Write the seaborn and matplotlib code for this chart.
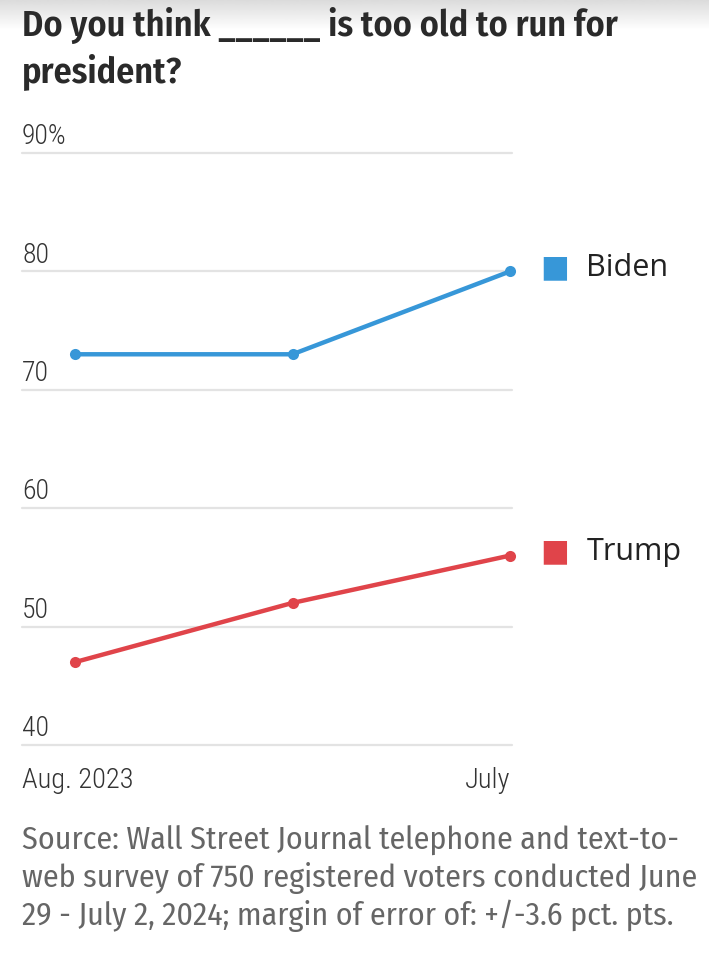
import numpy as np
import pandas as pd
import matplotlib
matplotlib.use("Agg")
import matplotlib.pyplot as plt
import matplotlib.transforms as mtransforms
import seaborn as sns

# ---- data ----
waves = [0, 1, 2]                      # Aug. 2023, (Feb. 2024), July 2024
wave_labels = ["Aug. 2023", "", "July"]
biden = [73, 73, 80]
trump = [47, 52, 56]
candidates = ["Biden", "Trump"]
colors = {"Biden": "#3797d8", "Trump": "#e0444a"}
y_ticks = [40, 50, 60, 70, 80, 90]
y_tick_labels = ["40", "50", "60", "70", "80", "90%"]
title_lines = ["Do you think ______ is too old to run for", "president?"]
source_lines = ["Source: Wall Street Journal telephone and text-to-",
                "web survey of 750 registered voters conducted June",
                "29 - July 2, 2024; margin of error of: +/-3.6 pct. pts."]

df = pd.DataFrame({
    "wave": waves * 2,
    "value": biden + trump,
    "candidate": ["Biden"] * 3 + ["Trump"] * 3,
})

sns.set_theme(style="white")
plt.rcParams["font.family"] = ["Roboto Condensed", "DejaVu Sans"]

COND = ["Roboto Condensed", "DejaVu Sans"]
TITLEF = ["Fira Sans Condensed", "DejaVu Sans"]
SRCF = ["Fira Sans Condensed", "DejaVu Sans"]
LEGF = ["Open Sans", "DejaVu Sans"]

W, H = 709, 958
fig = plt.figure(figsize=(W / 100, H / 100), dpi=100)

def fy(px):
    return 1 - px / H

# screenshot-like soft grey band at top
gax = fig.add_axes([0, fy(30), 1, 30 / H])
grad = np.linspace(0.86, 1.0, 50).reshape(-1, 1)
gax.imshow(grad, aspect="auto", cmap="gray", vmin=0, vmax=1, extent=[0, 1, 0, 1])
gax.axis("off")

ax = fig.add_axes([22 / W, fy(745), 490 / W, (745 - 153) / H])

sns.lineplot(data=df, x="wave", y="value", hue="candidate", palette=colors,
             marker="o", markersize=8, markeredgewidth=0, linewidth=3.2,
             legend=False, ax=ax, clip_on=False)

ax.set_xlim(-0.2437, 2.0092)
ax.set_ylim(40, 90)
ax.set_xlabel("")
ax.set_ylabel("")
for s in ax.spines.values():
    s.set_visible(False)

# gridlines
ax.set_yticks(y_ticks)
ax.set_yticklabels([])
ax.tick_params(axis="y", length=0)
for v in y_ticks:
    ax.axhline(v, color="#e3e3e3", linewidth=1.6, zorder=0, clip_on=False)

# y labels above gridlines, left aligned
trans = mtransforms.blended_transform_factory(ax.transAxes, ax.transData)
for v, lab in zip(y_ticks, y_tick_labels):
    ax.text(0, v + 0.75, lab, transform=trans, ha="left", va="baseline",
            fontsize=20, color="#333333", family=COND, fontweight="light")

# x ticks
tick_pos = [waves[0], waves[2]]
ax.set_xticks(tick_pos)
ax.set_xticklabels([])
ax.tick_params(axis="x", length=5, width=1.8, color="#333333", direction="out", pad=2)
ax.text(22 / W, fy(788), wave_labels[0], transform=fig.transFigure, ha="left", va="baseline",
        fontsize=20.5, color="#333333", family=COND, fontweight="light")
xtrans = mtransforms.blended_transform_factory(ax.transData, fig.transFigure)
ax.text(waves[2], fy(788), wave_labels[2], transform=xtrans, ha="right", va="baseline",
        fontsize=20.5, color="#333333", family=COND, fontweight="light")

# legend labels at end of lines
for name, vals in zip(candidates, [biden, trump]):
    ax.text(1.058, vals[-1] + 0.3, "\u25A0", transform=trans, ha="left", va="center",
            fontsize=22, color=colors[name], family="DejaVu Sans")
    ax.text(1.152, vals[-1] - 0.35, name, transform=trans, ha="left", va="baseline",
            fontsize=22, color="#222222", family=LEGF)

# title
for i, line in enumerate(title_lines):
    fig.text(22 / W, fy(36 + 46 * i), line, ha="left", va="baseline", fontsize=26,
             fontweight="semibold", color="#2a2a2a", family=TITLEF)

# source
for i, line in enumerate(source_lines):
    fig.text(22 / W, fy(850 + 37.5 * i), line, ha="left", va="baseline", fontsize=23,
             color="#666666", family=SRCF, fontweight="normal")

fig.savefig("out.png", dpi=100)
